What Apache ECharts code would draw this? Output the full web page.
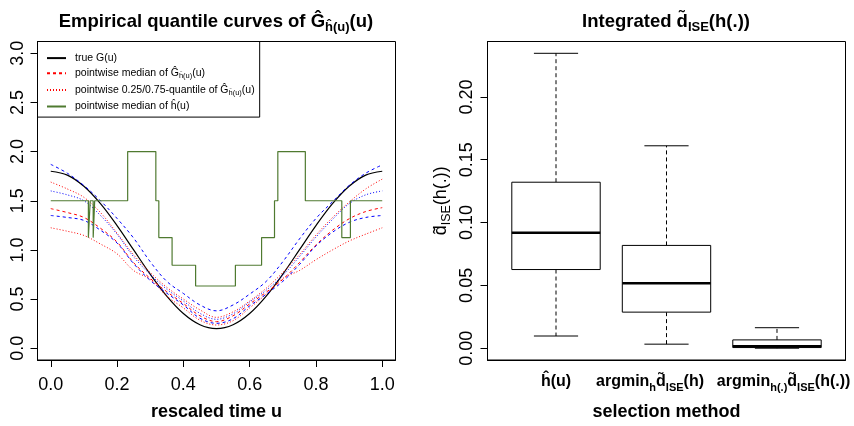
<!DOCTYPE html>
<html>
<head>
<meta charset="utf-8">
<script src="https://cdn.jsdelivr.net/npm/echarts@6.0.0/dist/echarts.min.js"></script>
<style>
  html, body { margin: 0; padding: 0; background: #fff; }
  #chart { width: 854px; height: 426px; }
</style>
</head>
<body>
<div id="chart"></div>
<script>
const FONT = '"Liberation Sans", Arial, Helvetica, sans-serif';

// left panel: curves on a 0.05 grid of u
const uGrid = [0, 0.05, 0.1, 0.15, 0.2, 0.25, 0.3, 0.35, 0.4, 0.45, 0.5,
  0.55, 0.6, 0.65, 0.7, 0.75, 0.8, 0.85, 0.9, 0.95, 1];
const trueG = [1.8, 1.761, 1.647, 1.47, 1.247, 1.0, 0.753, 0.53, 0.353, 0.239, 0.2,
  0.239, 0.353, 0.53, 0.753, 1.0, 1.247, 1.47, 1.647, 1.761, 1.8];
const redMedian = [1.42, 1.38, 1.33, 1.22, 1.08, 0.87, 0.71, 0.575, 0.455, 0.33, 0.27,
  0.33, 0.45, 0.57, 0.7, 0.87, 1.05, 1.2, 1.316, 1.39, 1.43];
const redQ75 = [1.69, 1.62, 1.535, 1.38, 1.17, 0.95, 0.77, 0.62, 0.5, 0.39, 0.314,
  0.37, 0.48, 0.61, 0.77, 0.95, 1.15, 1.33, 1.485, 1.62, 1.72];
const redQ25 = [1.225, 1.19, 1.147, 1.06, 0.96, 0.79, 0.7, 0.53, 0.41, 0.285, 0.236,
  0.28, 0.41, 0.55, 0.71, 0.79, 0.9, 1.0, 1.09, 1.16, 1.225];
const blueUpper = [1.87, 1.78, 1.655, 1.5, 1.32, 1.12, 0.88, 0.68, 0.557, 0.44, 0.38,
  0.44, 0.55, 0.68, 0.88, 1.11, 1.32, 1.49, 1.655, 1.78, 1.865];
const blueMid = [1.6, 1.56, 1.5, 1.35, 1.16, 0.93, 0.75, 0.6, 0.48, 0.355, 0.294,
  0.35, 0.47, 0.59, 0.74, 0.93, 1.13, 1.31, 1.47, 1.56, 1.6];
const blueLower = [1.35, 1.33, 1.3, 1.2, 1.07, 0.86, 0.69, 0.56, 0.44, 0.305, 0.253,
  0.3, 0.43, 0.55, 0.68, 0.85, 1.04, 1.18, 1.28, 1.33, 1.35];

// median bandwidth: value held from each u until the next one
const stepU = [0, 0.1135, 0.119, 0.128, 0.1325, 0.232, 0.317, 0.326, 0.366, 0.437,
  0.557, 0.636, 0.675, 0.685, 0.768, 0.878, 0.904, 1.0];
const stepH = [1.5, 1.125, 1.5, 1.125, 1.5, 2.0, 1.5, 1.125, 0.844, 0.633,
  0.844, 1.125, 1.5, 2.0, 1.5, 1.125, 1.5, 1.5];

const uTicks = [0, 0.2, 0.4, 0.6, 0.8, 1.0];
const gTicks = [0, 0.5, 1.0, 1.5, 2.0, 2.5, 3.0];

// right panel: boxplot statistics per selection method
const methods = [
  '{b|ĥ(u)}',
  '{b|argmin}{s|h}{b|d̃}{s|ISE}{b|(h)}',
  '{b|argmin}{s|h(.)}{b|d̃}{s|ISE}{b|(h(.))}'
];
const boxMin = [0.0097, 0.0032, 0.0];
const boxQ1 = [0.0626, 0.0287, 0.0005];
const boxMed = [0.0918, 0.0516, 0.0016];
const boxQ3 = [0.1321, 0.0818, 0.0066];
const boxMax = [0.2347, 0.1611, 0.0163];
const dTicks = [0, 0.05, 0.10, 0.15, 0.20];

const legendNames = ['true G(u)', 'pointwise median', 'pointwise quantile', 'pointwise median of h'];
const legendLabels = {
  'true G(u)': '{t|true G(u)}',
  'pointwise median': '{t|pointwise median of Ĝ}{s|ĥ(u)}{t|(u)}',
  'pointwise quantile': '{t|pointwise 0.25/0.75-quantile of Ĝ}{s|ĥ(u)}{t|(u)}',
  'pointwise median of h': '{t|pointwise median of ĥ(u)}'
};

const pairs = (xs, ys) => xs.map((x, i) => [x, ys[i]]);

function curve(name, ys, color, dash, width) {
  return {
    name: name,
    type: 'line',
    xAxisIndex: 0,
    yAxisIndex: 0,
    data: pairs(uGrid, ys),
    smooth: 0.35,
    symbol: 'none',
    silent: true,
    color: color,
    lineStyle: { color: color, width: width || 1, type: dash }
  };
}

const boldRich = {
  n: { fontFamily: FONT, fontSize: 18.5, fontWeight: 'bold', color: '#000', lineHeight: 24 },
  s: { fontFamily: FONT, fontSize: 13, fontWeight: 'bold', color: '#000', verticalAlign: 'bottom' }
};

const methodRich = {
  b: { fontFamily: FONT, fontSize: 16, fontWeight: 'bold', fill: '#000', color: '#000', lineHeight: 22 },
  s: { fontFamily: FONT, fontSize: 11, fontWeight: 'bold', fill: '#000', color: '#000', verticalAlign: 'bottom' }
};
// R places the plotmath labels slightly off the box centres
const methodLabelShift = [0, -16.5, 6.6];

const blackAxisLine = { show: true, onZero: false, lineStyle: { color: '#000', width: 1 } };

const chart = echarts.init(document.getElementById('chart'));

const option = {
  animation: false,
  backgroundColor: '#fff',
  textStyle: { fontFamily: FONT },
  title: [
    {
      text: '{n|Empirical quantile curves of Ĝ}{s|ĥ(u)}{n|(u)}',
      left: 211, top: 5, textAlign: 'center',
      textStyle: { rich: boldRich }
    },
    {
      text: '{n|Integrated d̃}{s|ISE}{n|(h(.))}',
      left: 661, top: 5, textAlign: 'center',
      textStyle: { rich: boldRich }
    }
  ],
  legend: {
    data: legendNames,
    selectedMode: false,
    orient: 'vertical',
    left: 37.5,
    top: 41.5,
    padding: [11, 5, 5, 8.5],
    itemGap: 4,
    itemWidth: 19,
    itemHeight: 14,
    borderColor: '#000',
    borderWidth: 1,
    itemStyle: { opacity: 0 },
    formatter: (name) => legendLabels[name],
    textStyle: {
      padding: [0, 0, 0, 4],
      rich: {
        t: { fontFamily: FONT, fontSize: 10.5, color: '#000', lineHeight: 14 },
        s: { fontFamily: FONT, fontSize: 7.5, color: '#000', verticalAlign: 'bottom' }
      }
    }
  },
  grid: [
    { left: 37.5, top: 41.5, width: 358, height: 320, show: true, borderColor: '#000', borderWidth: 1 },
    { left: 487.5, top: 41.5, width: 358, height: 320, show: true, borderColor: '#000', borderWidth: 1 }
  ],
  xAxis: [
    {
      gridIndex: 0, type: 'value', min: -0.04, max: 1.04,
      axisLine: blackAxisLine, splitLine: { show: false },
      axisTick: { show: true, inside: false, length: 7, customValues: uTicks, lineStyle: { color: '#000' } },
      axisLabel: {
        customValues: uTicks, formatter: (v) => v.toFixed(1),
        fontSize: 18, color: '#000', margin: 16, fontFamily: FONT
      },
      name: 'rescaled time u', nameLocation: 'middle', nameGap: 43,
      nameTextStyle: { fontFamily: FONT, fontSize: 18, fontWeight: 'bold', color: '#000' }
    },
    {
      gridIndex: 1, type: 'value', min: 0.38, max: 3.62,
      axisLine: blackAxisLine, splitLine: { show: false }, axisTick: { show: false },
      axisLabel: { show: false },
      name: 'selection method', nameLocation: 'middle', nameGap: 43,
      nameTextStyle: { fontFamily: FONT, fontSize: 18, fontWeight: 'bold', color: '#000' }
    }
  ],
  yAxis: [
    {
      gridIndex: 0, type: 'value', min: -0.12, max: 3.12,
      axisLine: blackAxisLine, splitLine: { show: false },
      axisTick: { show: true, inside: false, length: 7, customValues: gTicks, lineStyle: { color: '#000' } },
      axisLabel: {
        customValues: gTicks, formatter: (v) => v.toFixed(1), rotate: 90,
        fontSize: 18, color: '#000', margin: 10, fontFamily: FONT
      }
    },
    {
      gridIndex: 1, type: 'value', min: -0.0094, max: 0.2441,
      axisLine: blackAxisLine, splitLine: { show: false },
      axisTick: { show: true, inside: false, length: 7, customValues: dTicks, lineStyle: { color: '#000' } },
      axisLabel: {
        customValues: dTicks, formatter: (v) => v.toFixed(2), rotate: 90,
        fontSize: 18, color: '#000', margin: 11, fontFamily: FONT
      },
      name: '{n|d̃}{s|ISE}{n|(h(.))}', nameLocation: 'middle', nameGap: 34,
      nameTextStyle: {
        rich: {
          n: { fontFamily: FONT, fontSize: 18, color: '#000', lineHeight: 24 },
          s: { fontFamily: FONT, fontSize: 12.5, color: '#000', verticalAlign: 'bottom' }
        }
      }
    }
  ],
  series: [
    curve('true G(u)', trueG, '#000000', 'solid', 1.2),
    curve('pointwise median', redMedian, '#ff0000', [3, 3]),
    curve('pointwise quantile', redQ75, '#ff0000', [1, 2]),
    curve('pointwise quantile', redQ25, '#ff0000', [1, 2]),
    curve('blue upper', blueUpper, '#0000ff', [3, 3]),
    curve('blue middle', blueMid, '#0000ff', [1, 2]),
    curve('blue lower', blueLower, '#0000ff', [3, 3]),
    {
      name: 'pointwise median of h',
      type: 'line',
      xAxisIndex: 0,
      yAxisIndex: 0,
      step: 'end',
      data: pairs(stepU, stepH),
      symbol: 'none',
      silent: true,
      color: '#4f7a30',
      lineStyle: { color: '#4f7a30', width: 1.2 }
    },
    {
      type: 'custom',
      xAxisIndex: 1,
      yAxisIndex: 1,
      silent: true,
      clip: false,
      data: methods.map((m, i) => [i + 1, boxMin[i], boxQ1[i], boxMed[i], boxQ3[i], boxMax[i]]),
      encode: { x: 0, y: [1, 2, 3, 4, 5] },
      renderItem: (params, api) => {
        const i = params.dataIndex;
        const x = api.value(0);
        const lo = api.value(1), q1 = api.value(2), med = api.value(3), q3 = api.value(4), hi = api.value(5);
        const seg = (xa, ya, xb, yb, extra) => {
          const a = api.coord([xa, ya]);
          const b = api.coord([xb, yb]);
          return {
            type: 'line',
            shape: { x1: a[0], y1: a[1], x2: b[0], y2: b[1] },
            style: Object.assign({ stroke: '#000', lineWidth: 1 }, extra || {})
          };
        };
        const tl = api.coord([x - 0.4, q3]);
        const br = api.coord([x + 0.4, q1]);
        const base = api.coord([x, -0.0094]);
        return {
          type: 'group',
          children: [
            seg(x, q3, x, hi, { lineDash: [4, 3] }),
            seg(x, q1, x, lo, { lineDash: [4, 3] }),
            seg(x - 0.2, hi, x + 0.2, hi),
            seg(x - 0.2, lo, x + 0.2, lo),
            {
              type: 'rect',
              shape: { x: tl[0], y: tl[1], width: br[0] - tl[0], height: br[1] - tl[1] },
              style: { fill: '#fff', stroke: '#000', lineWidth: 1 }
            },
            seg(x - 0.4, med, x + 0.4, med, { lineWidth: 2.5 }),
            {
              type: 'text',
              x: base[0] + methodLabelShift[i],
              y: base[1] + 22,
              style: {
                text: methods[i],
                rich: methodRich,
                fill: '#000',
                align: 'center',
                verticalAlign: 'middle'
              }
            }
          ]
        };
      }
    }
  ]
};

chart.setOption(option);
</script>
</body>
</html>
